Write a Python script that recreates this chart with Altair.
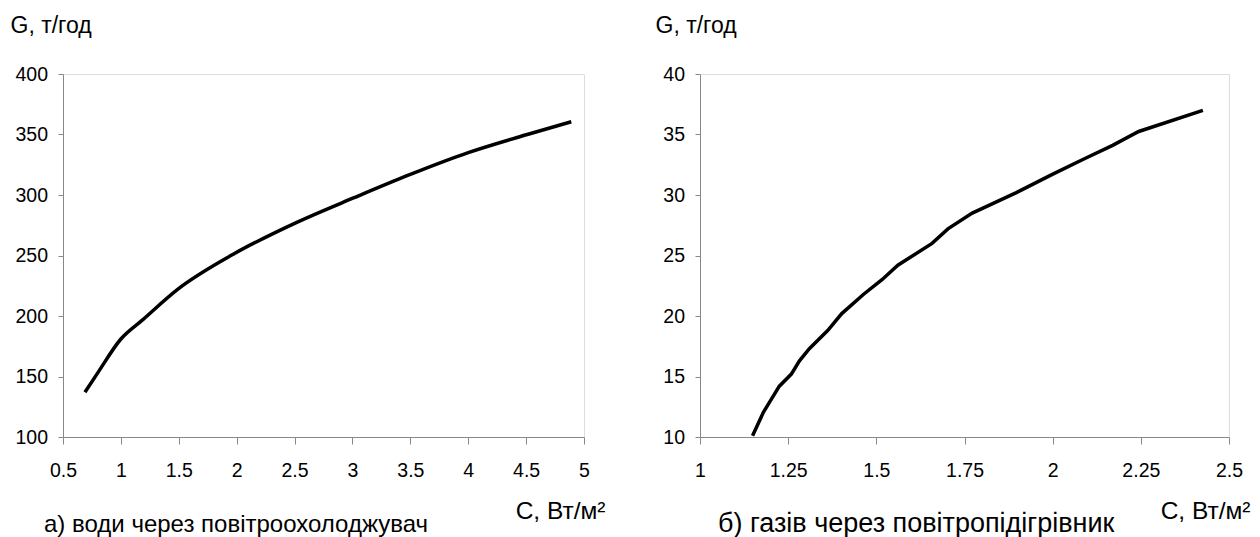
import altair as alt
import pandas as pd

# Left panel: water through air cooler
c_water = [0.69, 0.80, 1.00, 1.19, 1.49, 1.97, 2.51, 3.02, 3.50, 4.00, 4.51, 4.89]
g_water = [137, 153, 181, 197, 222, 251, 277, 298, 317, 335, 350, 360.5]

# Right panel: gases through air heater
c_gas = [1.149, 1.18, 1.225, 1.259, 1.282, 1.31, 1.362, 1.402, 1.464, 1.516, 1.561,
         1.658, 1.703, 1.772, 1.897, 1.999, 2.09, 2.17, 2.244, 2.426]
g_gas = [10.1, 12.06, 14.2, 15.2, 16.3, 17.3, 18.8, 20.2, 21.8, 23.0, 24.2,
         26.0, 27.2, 28.5, 30.2, 31.7, 33.0, 34.1, 35.25, 37.0]

x_ticks_a = [0.5, 1, 1.5, 2, 2.5, 3, 3.5, 4, 4.5, 5]
y_ticks_a = [100, 150, 200, 250, 300, 350, 400]
x_ticks_b = [1, 1.25, 1.5, 1.75, 2, 2.25, 2.5]
y_ticks_b = [10, 15, 20, 25, 30, 35, 40]

y_title = "G, т/год"
x_title = "C, Вт/м²"
cap_a = "а) води через повітроохолоджувач"
cap_b = "б) газів через повітропідігрівник"

FONT = "Liberation Sans, Arial, Helvetica, sans-serif"
W1, W2, H = 521, 529, 363


def panel(xs, ys, xticks, yticks, width, caption, cap_x, cap_size, interp, ytx):
    df = pd.DataFrame({"C": xs, "G": ys})
    line = alt.Chart(df).mark_line(color="black", strokeWidth=3.5, interpolate=interp).encode(
        x=alt.X("C:Q", scale=alt.Scale(domain=[xticks[0], xticks[-1]], nice=False, zero=False),
                axis=alt.Axis(values=xticks, labelExpr="format(datum.value, '.2~f')",
                              grid=False, title=x_title,
                              titleAngle=0, titleAlign="right", titleBaseline="middle",
                              titleX=width + 21, titleY=74, titleFontWeight="normal",
                              titleFontSize=24.5, labelPadding=17, tickSize=7,
                              labelFontSize=19.5, labelFlush=False)),
        y=alt.Y("G:Q", scale=alt.Scale(domain=[yticks[0], yticks[-1]], nice=False, zero=False),
                axis=alt.Axis(values=yticks, grid=False, title=y_title,
                              titleAngle=0, titleAlign="left", titleBaseline="middle",
                              titleX=ytx, titleY=-49,
                              titleFontWeight="normal",
                              titleFontSize=23, tickSize=5, labelPadding=10.5,
                              labelFontSize=19.5, labelFlush=False)),
    )
    cap = alt.Chart(pd.DataFrame({"t": [caption]})).mark_text(
        align="left", baseline="alphabetic", fontSize=cap_size, font=FONT, color="black"
    ).encode(text="t:N", x=alt.value(cap_x), y=alt.value(H + 95))
    return alt.layer(line, cap).properties(width=width, height=H)


left = panel(c_water, g_water, x_ticks_a, y_ticks_a, W1, cap_a, -19, 24, "monotone", -53)
right = panel(c_gas, g_gas, x_ticks_b, y_ticks_b, W2, cap_b, 18, 27, "linear", -45)

chart = alt.hconcat(left, right, spacing=116, bounds="flush").properties(
    padding={"left": 1, "top": 5, "right": 0, "bottom": 0}
).configure_view(
    stroke="#8a8a8a", strokeWidth=2
).configure_axis(
    domainColor="black", domainWidth=2, tickColor="black", tickWidth=1.5,
    labelColor="black", titleColor="black", labelFont=FONT, titleFont=FONT,
).configure(background="white")

chart.save("out.html", embed_options={"renderer": "svg", "actions": False})
